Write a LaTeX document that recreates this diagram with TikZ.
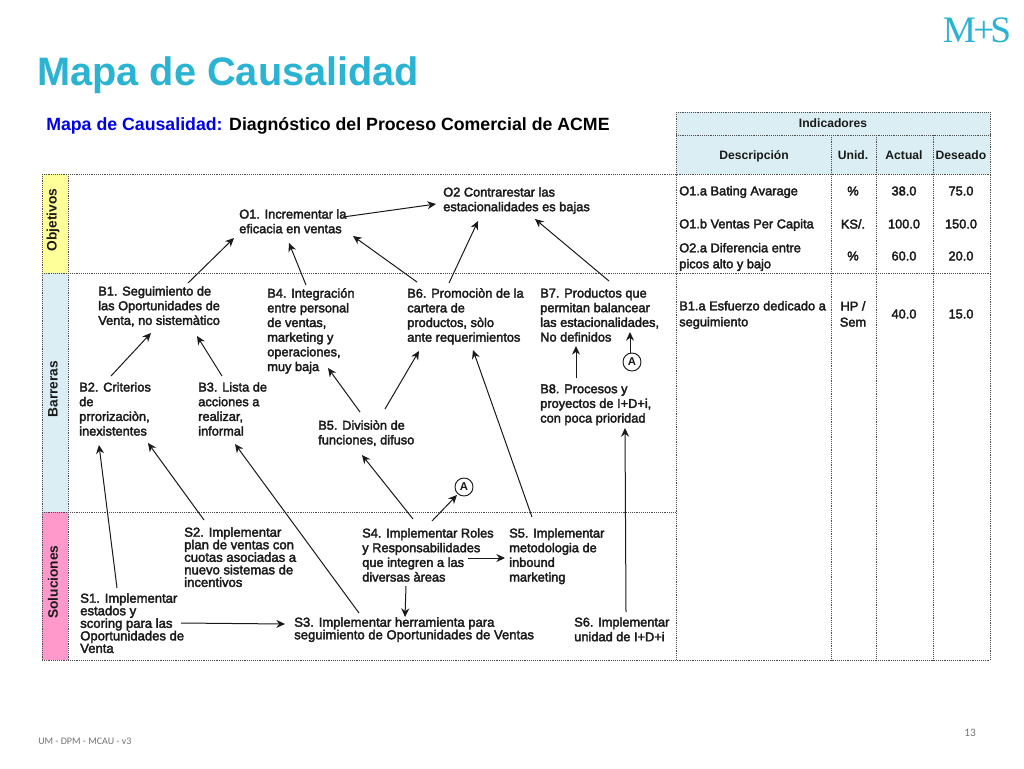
\documentclass[tikz,border=0pt]{standalone}
\usepackage{fontspec}
\setmainfont{Liberation Sans}
\newfontfamily\labfont[FakeBold=2.6]{Liberation Sans}
\newfontfamily\logofont{Liberation Serif}
\newfontfamily\footfont{Carlito}
\usetikzlibrary{arrows.meta}
\definecolor{titlecyan}{HTML}{2BB3D3}
\definecolor{headblue}{HTML}{DAEEF3}
\definecolor{sideyellow}{HTML}{FFFF99}
\definecolor{sidepink}{HTML}{FF99CC}
\definecolor{subblue}{HTML}{0000E6}
\definecolor{inkdark}{HTML}{1A1A1A}
\tikzset{
  x=0.75pt,y=-0.75pt,
  lab/.style={anchor=north west,inner sep=0pt,align=left,text=inkdark,font=\labfont\fontsize{9.6}{11}\selectfont},
  tight/.style={lab,font=\labfont\fontsize{9.8}{9.4}\selectfont},
  cell/.style={inner sep=0pt,align=center,text=inkdark,font=\labfont\fontsize{9.6}{12}\selectfont},
  rowlab/.style={cell,anchor=west,align=left},
  headcell/.style={inner sep=0pt,text=inkdark,font=\bfseries\fontsize{9.1}{10}\selectfont},
  sidelab/.style={inner sep=0pt,rotate=90,text=inkdark,font=\bfseries\fontsize{10.3}{11}\selectfont},
  arr/.style={-{Stealth[length=6.5pt,width=6pt]},line width=0.75pt,draw=inkdark},
  tablerule/.style={draw=black!70,line width=0.6pt,dash pattern=on 0.7pt off 0.7pt},
  marker/.style={circle,draw=inkdark,line width=0.7pt,fill=white,minimum size=13.5pt,inner sep=0pt,text=inkdark,font=\bfseries\fontsize{8.5}{9}\selectfont}
}
\begin{document}
\begin{tikzpicture}
\useasboundingbox (0,0) rectangle (1024,768);
\fill[white] (0,0) rectangle (1024,768);
% title
\node[anchor=west,inner sep=0pt,text=titlecyan,font=\bfseries\fontsize{29.8}{34}\selectfont] (title) at (37,75) {Mapa de Causalidad};
\node[anchor=west,inner sep=0pt,font=\bfseries\fontsize{13.3}{15}\selectfont] (sub) at (46,126) {\textcolor{subblue}{Mapa de Causalidad:} Diagnóstico del Proceso Comercial de ACME};
% logo
\node[inner sep=0pt,text=titlecyan,font=\logofont\fontsize{28}{30}\selectfont] (logo) at (977,30) {M\kern-2pt+\kern-3pt S};
% band fills
\fill[sideyellow] (42,174) rectangle (68,273);
\fill[headblue] (42,273) rectangle (68,512);
\fill[sidepink] (42,512) rectangle (68,660);
\fill[headblue] (677,112) rectangle (990,174);
% rules
\draw[tablerule] (42,174) -- (990,174);
\draw[tablerule] (42,273) -- (990,273);
\draw[tablerule] (42,512) -- (676,512);
\draw[tablerule] (42,660) -- (990,660);
\draw[tablerule] (42,174) -- (42,660);
\draw[tablerule] (68,174) -- (68,660);
\draw[tablerule] (676,112) -- (676,660);
\draw[tablerule] (990,112) -- (990,660);
\draw[tablerule] (676,112) -- (990,112);
\draw[tablerule] (676,135) -- (990,135);
\draw[tablerule] (831,135) -- (831,660);
\draw[tablerule] (876,135) -- (876,660);
\draw[tablerule] (933,135) -- (933,660);
% side labels
\node[sidelab] (sobj) at (53,220) {Objetivos};
\node[sidelab] (sbar) at (53,389) {Barreras};
\node[sidelab] (ssol) at (53,582) {Soluciones};
% table header
\node[headcell] (hind) at (833,123.5) {Indicadores};
\node[headcell] (hdes) at (754,156) {Descripción};
\node[headcell] (huni) at (853,155) {Unid.};
\node[headcell] (hact) at (904,155) {Actual};
\node[headcell] (hdeo) at (961,155) {Deseado};
% table rows
\node[rowlab] (r1) at (679,192) {O1.a Bating Avarage};
\node[cell] (r1u) at (853,191) {\%};
\node[cell] (r1a) at (904,191) {38.0};
\node[cell] (r1d) at (961,191) {75.0};
\node[rowlab] (r2) at (679,225) {O1.b Ventas Per Capita};
\node[cell] (r2u) at (853,224) {KS/.};
\node[cell] (r2a) at (904,224) {100.0};
\node[cell] (r2d) at (961,224) {150.0};
\node[rowlab] (r3) at (679,257) {O2.a Diferencia entre\\picos alto y bajo};
\node[cell] (r3u) at (853,256) {\%};
\node[cell] (r3a) at (904,256) {60.0};
\node[cell] (r3d) at (961,256) {20.0};
\node[rowlab] (r4) at (679,315) {B1.a Esfuerzo dedicado a\\seguimiento};
\node[cell] (r4u) at (853,314) {HP /\\Sem};
\node[cell] (r4a) at (904,314) {40.0};
\node[cell] (r4d) at (961,314) {15.0};
% map nodes
\node[lab] (o1) at (239,209) {O1. Incrementar la\\eficacia en ventas};
\node[lab] (o2) at (443,187) {O2 Contrarestar  las\\estacionalidades es bajas};
\node[lab] (b1) at (98,286) {B1.  Seguimiento de\\las Oportunidades  de\\Venta, no sistemàtico};
\node[lab] (b4) at (267,288) {B4. Integración\\entre personal\\de ventas,\\marketing y\\operaciones,\\muy baja};
\node[lab] (b6) at (407,288) {B6. Promociòn de la\\cartera de\\productos,  sòlo\\ante requerimientos};
\node[lab] (b7) at (540,288) {B7. Productos  que\\permitan balancear\\las estacionalidades,\\No definidos};
\node[lab] (b2) at (79,382) {B2. Criterios\\de\\prrorizaciòn,\\inexistentes};
\node[lab] (b3) at (198,382) {B3. Lista de\\acciones a\\realizar,\\informal};
\node[lab] (b5) at (318,420) {B5.  Divisiòn  de\\funciones, difuso};
\node[lab] (b8) at (540,384) {B8. Procesos  y\\proyectos  de I+D+i,\\con poca prioridad};
\node[tight] (s1) at (80,593) {S1. Implementar\\estados y\\scoring  para las\\Oportunidades de\\Venta};
\node[tight] (s2) at (184,527) {S2. Implementar\\plan de ventas con\\cuotas  asociadas a\\nuevo sistemas  de\\incentivos};
\node[tight] (s3) at (294,617) {S3. Implementar herramienta para\\seguimiento de Oportunidades de Ventas};
\node[lab] (s4) at (362,528) {S4. Implementar Roles\\y Responsabilidades\\que integren a las\\diversas  àreas};
\node[lab] (s5) at (509,528) {S5. Implementar\\metodologia de\\inbound\\marketing};
\node[lab] (s6) at (574,617) {S6. Implementar\\unidad de I+D+i};
\node[marker] (a1) at (632,362) {A};
\node[marker] (a2) at (464,487) {A};
% connectors
\draw[arr] ([shift={(90,-3)}]b1.north west) -- ([shift={(-5,29)}]o1.north west);
\draw[arr] ([shift={(39,-3)}]b4.north west) -- ([shift={(50,34)}]o1.north west);
\draw[arr] ([shift={(104,8)}]o1.north west) -- ([shift={(-7,17)}]o2.north west);
\draw[arr] ([shift={(10,-6)}]b6.north west) -- ([shift={(114,27)}]o1.north west);
\draw[arr] ([shift={(42,-5)}]b6.north west) -- ([shift={(35,34)}]o2.north west);
\draw[arr] ([shift={(69,-7)}]b7.north west) -- ([shift={(92,32)}]o2.north west);
\draw[arr] ([shift={(32,-6)}]b2.north west) -- ([shift={(53,47)}]b1.north west);
\draw[arr] ([shift={(24,-6)}]b3.north west) -- ([shift={(99,50)}]b1.north west);
\draw[arr] ([shift={(42,-8)}]b5.north west) -- ([shift={(61,80)}]b4.north west);
\draw[arr] ([shift={(67,-11)}]b5.north west) -- ([shift={(12,63)}]b6.north west);
\draw[arr] ([shift={(23,-11)}]s5.north west) -- ([shift={(66,62)}]b6.north west);
\draw[arr] ([shift={(36,-6)}]b8.north west) -- ([shift={(36,58)}]b7.north west);
\draw[arr] ([shift={(-2,-9)}]a1.center) -- ([shift={(90,44)}]b7.north west);
\draw[arr] ([shift={(51,-9)}]s4.north west) -- ([shift={(44,35)}]b5.north west);
\draw[arr] ([shift={(70,-7)}]s4.north west) -- ([shift={(-7,8)}]a2.center);
\draw[arr] ([shift={(106,30)}]s4.north west) -- ([shift={(-4,30)}]s5.north west);
\draw[arr] ([shift={(44,58)}]s4.north west) -- ([shift={(111,0)}]s3.north west);
\draw[arr] ([shift={(37,-5)}]s1.north west) -- ([shift={(20,63)}]b2.north west);
\draw[arr] ([shift={(20,-7)}]s2.north west) -- ([shift={(69,61)}]b2.north west);
\draw[arr] ([shift={(65,-4)}]s3.north west) -- ([shift={(37,62)}]b3.north west);
\draw[arr] ([shift={(101,30)}]s1.north west) -- ([shift={(-9,7)}]s3.north west);
\draw[arr] ([shift={(52,-5)}]s6.north west) -- ([shift={(85,44)}]b8.north west);
% footer
\node[anchor=west,inner sep=0pt,text=black!55,font=\footfont\fontsize{7.5}{9}\selectfont] (foot) at (38,741) {UM - DPM - MCAU - v3};
\node[inner sep=0pt,text=black!55,font=\footfont\fontsize{8.5}{10}\selectfont] (page) at (970,733) {13};
\end{tikzpicture}
\end{document}
